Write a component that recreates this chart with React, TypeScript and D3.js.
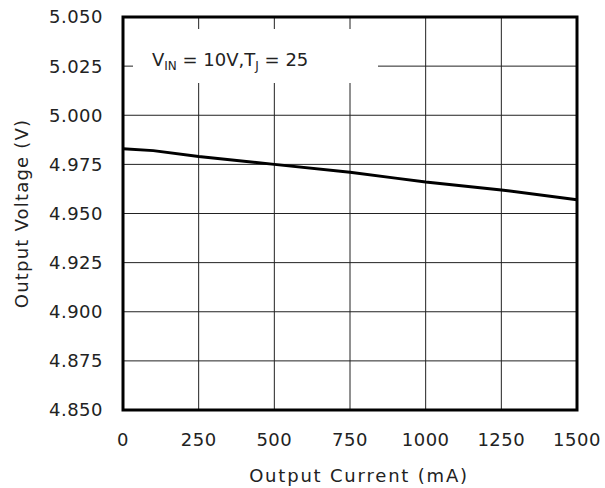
import React, { useRef, useEffect } from "react";
import * as d3 from "d3";

const current = [0, 100, 250, 500, 750, 900, 1000, 1250, 1500];
const voltage = [4.983, 4.982, 4.979, 4.975, 4.971, 4.968, 4.966, 4.962, 4.957];
const xTicks = [0, 250, 500, 750, 1000, 1250, 1500];
const yTicks = [4.85, 4.875, 4.9, 4.925, 4.95, 4.975, 5.0, 5.025, 5.05];

const FONT = "'DejaVu Sans', sans-serif";

const App = () => {
  const svgRef = useRef<SVGSVGElement>(null);

  useEffect(() => {
    const svg = d3.select(svgRef.current);
    svg.selectAll("*").remove();

    const width = 605;
    const height = 488;
    const margin = { top: 17, right: 28, bottom: 78, left: 123 };

    const x = d3
      .scaleLinear()
      .domain([0, 1500])
      .range([margin.left, width - margin.right]);
    const y = d3
      .scaleLinear()
      .domain([4.85, 5.05])
      .range([height - margin.bottom, margin.top]);

    // grid
    svg
      .append("g")
      .selectAll("line")
      .data(xTicks.slice(1, -1))
      .join("line")
      .attr("x1", (d) => x(d))
      .attr("x2", (d) => x(d))
      .attr("y1", y(5.05))
      .attr("y2", y(4.85))
      .attr("stroke", "#222")
      .attr("stroke-width", 1);
    svg
      .append("g")
      .selectAll("line")
      .data(yTicks.slice(1, -1))
      .join("line")
      .attr("x1", x(0))
      .attr("x2", x(1500))
      .attr("y1", (d) => y(d))
      .attr("y2", (d) => y(d))
      .attr("stroke", "#222")
      .attr("stroke-width", 1);

    // legend box masks grid
    svg
      .append("rect")
      .attr("x", 133)
      .attr("y", 29)
      .attr("width", 245)
      .attr("height", 54)
      .attr("fill", "white");

    const legend = svg
      .append("text")
      .attr("x", 152)
      .attr("y", 66)
      .attr("font-family", FONT)
      .attr("font-size", 18)
      .attr("fill", "#222");
    legend.append("tspan").text("V");
    legend.append("tspan").attr("font-size", 12).attr("dy", 4).text("IN");
    legend.append("tspan").attr("dy", -4).text(" = 10V,T");
    legend.append("tspan").attr("font-size", 12).attr("dy", 4).text("J");
    legend.append("tspan").attr("dy", -4).text(" = 25");

    // data line
    svg
      .append("path")
      .datum(current.map((c, i) => [c, voltage[i]] as [number, number]))
      .attr("fill", "none")
      .attr("stroke", "black")
      .attr("stroke-width", 3)
      .attr(
        "d",
        d3
          .line<[number, number]>()
          .x((d) => x(d[0]))
          .y((d) => y(d[1]))
      );

    // frame
    svg
      .append("rect")
      .attr("x", x(0))
      .attr("y", y(5.05))
      .attr("width", x(1500) - x(0))
      .attr("height", y(4.85) - y(5.05))
      .attr("fill", "none")
      .attr("stroke", "black")
      .attr("stroke-width", 3);

    // tick labels
    svg
      .append("g")
      .selectAll("text")
      .data(yTicks)
      .join("text")
      .attr("x", 103)
      .attr("y", (d) => y(d))
      .attr("dy", "0.36em")
      .attr("text-anchor", "end")
      .attr("font-family", FONT)
      .attr("font-size", 18)
      .attr("letter-spacing", 0.5)
      .attr("fill", "#222")
      .text((d) => d.toFixed(3));

    svg
      .append("g")
      .selectAll("text")
      .data(xTicks)
      .join("text")
      .attr("x", (d) => x(d))
      .attr("y", 446)
      .attr("text-anchor", "middle")
      .attr("font-family", FONT)
      .attr("font-size", 18)
      .attr("letter-spacing", 0.5)
      .attr("fill", "#222")
      .text((d) => String(d));

    // axis titles
    svg
      .append("text")
      .attr("x", 359)
      .attr("y", 482)
      .attr("text-anchor", "middle")
      .attr("font-family", FONT)
      .attr("font-size", 18)
      .attr("letter-spacing", 1.8)
      .attr("fill", "#222")
      .text("Output Current (mA)");

    svg
      .append("text")
      .attr("transform", `translate(28,${(y(5.05) + y(4.85)) / 2}) rotate(-90)`)
      .attr("text-anchor", "middle")
      .attr("font-family", FONT)
      .attr("font-size", 18)
      .attr("letter-spacing", 1.2)
      .attr("fill", "#222")
      .text("Output Voltage (V)");
  }, []);

  return (
    <svg
      ref={svgRef}
      width={605}
      height={488}
      style={{ position: "absolute", left: 0, top: 0, background: "white" }}
    />
  );
};

export default App;
